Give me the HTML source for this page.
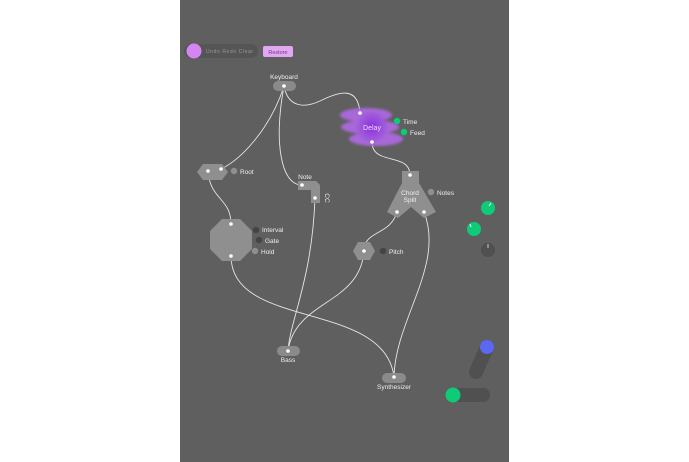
<!DOCTYPE html>
<html><head><meta charset="utf-8"><style>
html,body{margin:0;padding:0;background:#fff;}
svg{display:block;font-family:"Liberation Sans",sans-serif;}
</style></head><body>
<svg width="689" height="462" viewBox="0 0 689 462" xmlns="http://www.w3.org/2000/svg">
<defs>
<filter id="b" x="-50%" y="-50%" width="200%" height="200%"><feGaussianBlur stdDeviation="1.2"/></filter>
<radialGradient id="g" cx="0.5" cy="0.5" r="0.5"><stop offset="0" stop-color="#8a2fe0"/><stop offset="1" stop-color="#8a2fe0" stop-opacity="0"/></radialGradient>
</defs>
<rect x="0" y="0" width="689" height="462" fill="#fff"/>
<rect x="180" y="0" width="329" height="462" fill="#5f5f5f"/>
<rect x="184" y="44" width="74" height="14" rx="7" fill="#555"/>
<circle cx="194" cy="51" r="7.5" fill="#d585f2"/>
<text x="206" y="53" font-size="5" fill="#999" letter-spacing="0.6">Undo Redo Clear</text>
<rect x="263" y="46" width="30" height="11" rx="2" fill="#e2a6f2"/>
<text x="278" y="54" font-size="5.5" fill="#6a3f7a" text-anchor="middle">Restore</text>
<g fill="none" stroke="#e6e6e6" stroke-width="0.9">
<path d="M284 86 C288 108,305 108,320 101 C338 92,358 85,360 113"/>
<path d="M284 86 C270 130,240 160,221 169"/>
<path d="M284 86 C274 140,280 185,302 185"/>
<path d="M372 142 C372 166,410 152,410 175"/>
<path d="M208 171 C210 200,231 198,231 224"/>
<path d="M315 198 C312 280,290 320,288 351"/>
<path d="M397 212 C390 236,364 230,364 251"/>
<path d="M364 251 C360 305,295 300,288 351"/>
<path d="M231 256 C231 330,385 300,394 377"/>
<path d="M424 212 C445 265,395 320,394 377"/>
</g>
<text x="284" y="79" font-size="6.5" fill="#eee" text-anchor="middle">Keyboard</text>
<rect x="273" y="81" width="23" height="10" rx="5" fill="#8a8a8a"/>
<g fill="#a868d8" filter="url(#b)">
<ellipse cx="366" cy="115" rx="26" ry="7"/>
<ellipse cx="370" cy="127" rx="29" ry="7"/>
<ellipse cx="376" cy="139" rx="27" ry="7"/>
</g>
<circle cx="372" cy="127" r="17" fill="url(#g)"/>
<text x="372" y="130" font-size="7" fill="#f0e0ff" text-anchor="middle">Delay</text>
<circle cx="397" cy="121" r="3.2" fill="#0ecb77"/>
<text x="403" y="124" font-size="6.5" fill="#eee">Time</text>
<circle cx="404" cy="132" r="3.2" fill="#0ecb77"/>
<text x="410" y="135" font-size="6.5" fill="#eee">Feed</text>
<polygon points="197,172 203,164 222,164 228,172 222,180 203,180" fill="#8f8f8f"/>
<circle cx="234" cy="171" r="3.2" fill="#8f8f8f"/>
<text x="240" y="174" font-size="6.5" fill="#eee">Root</text>
<text x="305" y="179" font-size="6.5" fill="#eee" text-anchor="middle">Note</text>
<polygon points="298,181 316,181 320,185 320,203 311,203 311,190 298,190" fill="#8f8f8f"/>
<text x="325" y="198" font-size="6.5" fill="#eee" transform="rotate(90 325 198)" text-anchor="middle">CC</text>
<path d="M402 171 L419 171 L419 183 L436 212 L424 218 L411 207 L398 218 L387 212 L402 183 Z" fill="#8f8f8f"/>
<text x="410" y="195" font-size="6.5" fill="#eee" text-anchor="middle">Chord</text>
<text x="410" y="202" font-size="6.5" fill="#eee" text-anchor="middle">Split</text>
<circle cx="431" cy="192" r="3.2" fill="#8f8f8f"/>
<text x="437" y="195" font-size="6.5" fill="#eee">Notes</text>
<polygon points="222,219 240,219 252,231 252,249 240,261 222,261 210,249 210,231" fill="#8f8f8f"/>
<circle cx="256" cy="230" r="3.2" fill="#444"/>
<text x="262" y="232" font-size="6.5" fill="#eee">Interval</text>
<circle cx="259" cy="240" r="3.2" fill="#444"/>
<text x="265" y="243" font-size="6.5" fill="#eee">Gate</text>
<circle cx="255" cy="251" r="3.2" fill="#8f8f8f"/>
<text x="261" y="254" font-size="6.5" fill="#eee">Hold</text>
<polygon points="353,251 358,242 370,242 375,251 370,260 358,260" fill="#8f8f8f"/>
<circle cx="383" cy="251" r="3.2" fill="#444"/>
<text x="389" y="254" font-size="6.5" fill="#eee">Pitch</text>
<rect x="277" y="346" width="23" height="10" rx="5" fill="#8a8a8a"/>
<text x="288" y="362" font-size="6.5" fill="#eee" text-anchor="middle">Bass</text>
<rect x="382" y="373" width="24" height="10" rx="5" fill="#8a8a8a"/>
<text x="394" y="389" font-size="6.5" fill="#eee" text-anchor="middle">Synthesizer</text>
<g fill="#fff">
<circle cx="284" cy="86" r="1.8"/><circle cx="360" cy="113" r="1.8"/><circle cx="372" cy="142" r="1.8"/>
<circle cx="208" cy="171" r="1.8"/><circle cx="221" cy="169" r="1.8"/>
<circle cx="302" cy="185" r="1.8"/><circle cx="315" cy="198" r="1.8"/>
<circle cx="410" cy="175" r="1.8"/><circle cx="397" cy="212" r="1.8"/><circle cx="424" cy="212" r="1.8"/>
<circle cx="231" cy="224" r="1.8"/><circle cx="231" cy="256" r="1.8"/>
<circle cx="364" cy="251" r="1.8"/><circle cx="288" cy="351" r="1.8"/><circle cx="394" cy="377" r="1.8"/>
</g>
<circle cx="488" cy="208" r="7" fill="#0ecb77"/><line x1="489" y1="206" x2="491" y2="203" stroke="#fff" stroke-width="1"/>
<circle cx="474" cy="229" r="7" fill="#0ecb77"/><line x1="471" y1="227" x2="470" y2="224" stroke="#fff" stroke-width="1"/>
<circle cx="488" cy="250" r="7" fill="#505050"/><line x1="488" y1="248" x2="488" y2="244" stroke="#ccc" stroke-width="1"/>
<line x1="487" y1="347" x2="476" y2="372" stroke="#505050" stroke-width="14" stroke-linecap="round"/>
<circle cx="487" cy="347" r="7" fill="#5a68f2"/>
<rect x="446" y="388" width="44" height="14" rx="7" fill="#505050"/>
<circle cx="453" cy="395" r="7.5" fill="#0ecb77"/>
</svg>
</body></html>
